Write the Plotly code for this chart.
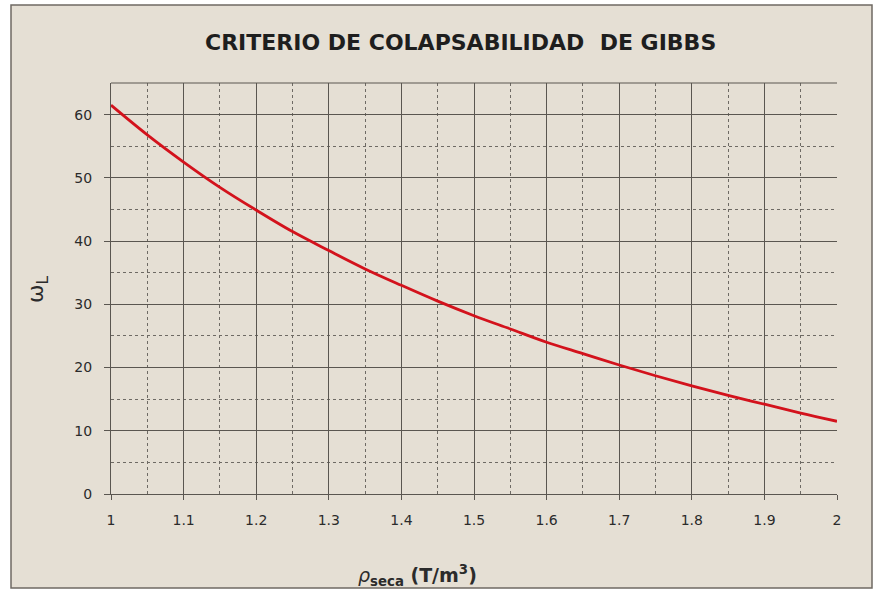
import plotly.graph_objects as go

# Dry density (T/m3) and liquid-limit water content
densidad_seca = [1.00, 1.05, 1.10, 1.15, 1.20, 1.25, 1.30, 1.35, 1.40, 1.45, 1.50,
                 1.55, 1.60, 1.65, 1.70, 1.75, 1.80, 1.85, 1.90, 1.95, 2.00]
humedad_wl = [61.5, 56.8, 52.5, 48.5, 44.9, 41.5, 38.5, 35.6, 33.0, 30.5, 28.2,
              26.1, 24.0, 22.2, 20.4, 18.7, 17.1, 15.6, 14.2, 12.8, 11.5]

x_ticks = [1, 1.1, 1.2, 1.3, 1.4, 1.5, 1.6, 1.7, 1.8, 1.9, 2]
x_tick_text = ["1", "1.1", "1.2", "1.3", "1.4", "1.5", "1.6", "1.7", "1.8", "1.9", "2"]
y_ticks = [0, 10, 20, 30, 40, 50, 60]

W, H = 879, 591
L, R, T, B = 111, 42, 83, 97
pw, ph = W - L - R, H - T - B

def px_x(p):
    return (p - L) / pw

def px_y(p):
    return (H - B - p) / ph

fig = go.Figure()
fig.add_trace(go.Scatter(
    x=densidad_seca, y=humedad_wl, mode="lines",
    line=dict(color="#d3121c", width=2.8, shape="spline"),
    hoverinfo="x+y", showlegend=False,
))

font_main = "DejaVu Sans, Arial, sans-serif"
grid_col = "#5a5650"
minor_col = "#6e6a64"
text_col = "#2b2b2b"

fig.update_layout(
    width=W, height=H,
    margin=dict(l=L, r=R, t=T, b=B),
    paper_bgcolor="white",
    plot_bgcolor="#fdf3e1",
    font=dict(family=font_main, size=14, color=text_col),
    xaxis=dict(
        range=[1, 2], tickvals=x_ticks, ticktext=x_tick_text,
        showgrid=True, gridcolor=grid_col, gridwidth=1,
        minor=dict(dtick=0.05, tick0=1, showgrid=True, gridcolor=minor_col,
                   griddash="dot", gridwidth=1),
        showline=True, linecolor=grid_col, linewidth=1,
        ticks="outside", ticklen=5, tickcolor=grid_col,
        ticklabelstandoff=8,
        zeroline=False, fixedrange=True,
        tickfont=dict(family=font_main, size=14, color=text_col),
    ),
    yaxis=dict(
        range=[0, 65], tickvals=y_ticks,
        showgrid=True, gridcolor=grid_col, gridwidth=1,
        minor=dict(dtick=5, tick0=0, showgrid=True, gridcolor=minor_col,
                   griddash="dot", gridwidth=1),
        showline=True, linecolor=grid_col, linewidth=1,
        ticks="outside", ticklen=6, tickcolor=grid_col,
        ticklabelstandoff=9,
        zeroline=False, fixedrange=True,
        tickfont=dict(family=font_main, size=14, color=text_col),
    ),
    shapes=[
        # chart area panel with its thin frame
        dict(type="rect", xref="paper", yref="paper", layer="below",
             x0=px_x(11), x1=px_x(872), y0=px_y(588), y1=px_y(5),
             fillcolor="#e5dfd4", line=dict(color="#6f6a63", width=1.5)),
        # top edge of the plotting area
        dict(type="line", xref="paper", yref="paper",
             x0=0, x1=1, y0=1, y1=1, line=dict(color=grid_col, width=1)),
    ],
    annotations=[
        dict(text="<b>CRITERIO DE COLAPSABILIDAD  DE GIBBS</b>",
             xref="paper", yref="paper", x=px_x(460), y=px_y(43),
             xanchor="center", yanchor="middle", showarrow=False,
             font=dict(family=font_main, size=22, color="#1e1e1e")),
        dict(text="ω<sub>L</sub>",
             xref="paper", yref="paper", x=px_x(37), y=px_y(290),
             xanchor="center", yanchor="middle", showarrow=False, textangle=-90,
             font=dict(family=font_main, size=22, color=text_col)),
        dict(text="<i>ρ</i><sub><b>seca</b></sub><b> (T/m<sup>3</sup>)</b>",
             xref="paper", yref="paper", x=px_x(417), y=px_y(575),
             xanchor="center", yanchor="middle", showarrow=False,
             font=dict(family=font_main, size=19, color=text_col)),
    ],
)

fig.write_html("out.html")
